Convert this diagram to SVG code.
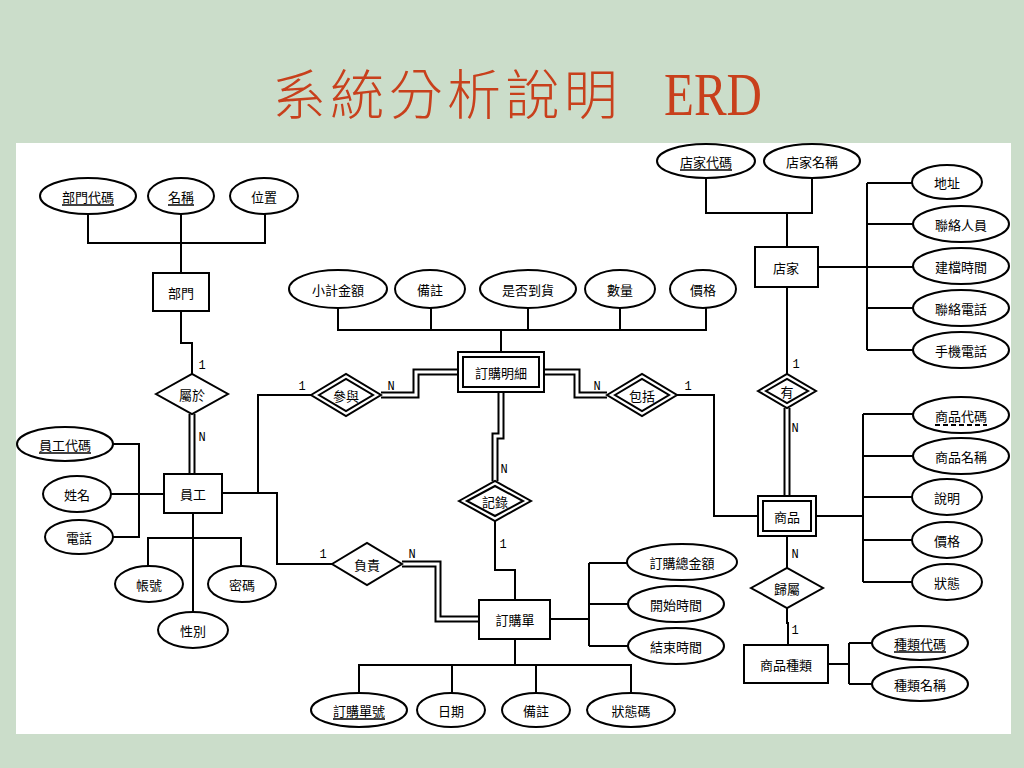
<svg xmlns="http://www.w3.org/2000/svg" width="1024" height="768" viewBox="0 0 1024 768">
<style>
.bg{fill:#cbddca}
.panel{fill:#fff}
.title{font-family:"Noto Sans CJK TC","Noto Sans CJK SC",sans-serif;font-size:54px;fill:#c8401c;font-weight:300}
.titlel{font-family:"Liberation Serif",serif;font-size:62px;fill:#c8401c}
.ln{stroke:#000;stroke-width:2;fill:none}
.dbl{stroke:#000;stroke-width:7;fill:none;stroke-linejoin:miter}
.dbli{stroke:#fff;stroke-width:3;fill:none;stroke-linejoin:miter}
.sh{stroke:#000;stroke-width:2;fill:#fff}
.t{font-family:"Noto Sans CJK TC","Noto Sans CJK SC",sans-serif;font-size:13px;fill:#000;text-anchor:middle;dominant-baseline:central}
.lb{font-family:"Liberation Mono",monospace;font-size:12px;fill:#000;text-anchor:middle}
.ul{stroke:#000;stroke-width:1.5}
.uld{stroke:#000;stroke-width:2;stroke-dasharray:5 3}
</style>
<rect class="bg" x="0" y="0" width="1024" height="768"/>
<rect class="panel" x="16" y="143" width="995" height="591"/>
<text x="272" y="115"><tspan class="title" textLength="362" lengthAdjust="spacing">系統分析說明 </tspan><tspan class="titlel" x="664" textLength="98" lengthAdjust="spacingAndGlyphs">ERD</tspan></text>

<g id="connectors">
<path class="ln" d="M88,214V243H265V214M181,214V273"/>
<path class="ln" d="M181,311V343H192V374"/>
<path class="dbl" d="M192,414V474"/><path class="dbli" d="M192,414V474"/>
<path class="ln" d="M113,444H139V537H113M111,494H164"/>
<path class="ln" d="M193,513V612M148,566V538H241V566"/>
<path class="ln" d="M222,493H277V564H332M258,493V395H312"/>
<path class="dbl" d="M381,395H416V372H458"/><path class="dbli" d="M381,395H416V372H458"/>
<path class="ln" d="M501,352V330M338,308V330H706V308M431,308V330M528,308V330M620,308V330"/>
<path class="dbl" d="M544,372H577V395H607"/><path class="dbli" d="M544,372H577V395H607"/>
<path class="ln" d="M677,395H714V516H758"/>
<path class="ln" d="M706,178V213H812V178M787,213V247"/>
<path class="ln" d="M787,287V374"/>
<path class="dbl" d="M787,408V496"/><path class="dbli" d="M787,408V496"/>
<path class="ln" d="M818,267H913M867,183V350M867,183H913M867,224H913M867,308H913M867,350H913"/>
<path class="ln" d="M816,516H863M863,414V582M863,414H913M863,456H913M863,497H913M863,540H913M863,582H913"/>
<path class="ln" d="M787,536V568M787,608V623H788V645"/>
<path class="ln" d="M828,664H849M849,643V684M849,643H872M849,684H872"/>
<path class="dbl" d="M501,392V436H495V481"/><path class="dbli" d="M501,392V436H495V481"/>
<path class="ln" d="M495,521V570H515V600"/>
<path class="dbl" d="M402,564H438V619H479"/><path class="dbli" d="M402,564H438V619H479"/>
<path class="ln" d="M550,619H589M589,563V646M589,563H628M589,604H628M589,646H628"/>
<path class="ln" d="M515,639V665M359,693V665H631V693M452,665V693M536,665V693"/>
<text class="lb" x="202" y="369">1</text>
<text class="lb" x="202" y="441">N</text>
<text class="lb" x="302" y="390">1</text>
<text class="lb" x="391" y="390">N</text>
<text class="lb" x="597" y="390">N</text>
<text class="lb" x="688" y="390">1</text>
<text class="lb" x="796" y="368">1</text>
<text class="lb" x="795" y="432">N</text>
<text class="lb" x="504" y="473">N</text>
<text class="lb" x="503" y="548">1</text>
<text class="lb" x="323" y="558">1</text>
<text class="lb" x="412" y="558">N</text>
<text class="lb" x="795" y="558">N</text>
<text class="lb" x="795" y="634">1</text>
</g>

<g id="dept-code"><ellipse class="sh" cx="88" cy="196" rx="48" ry="18"/><text class="t" x="88" y="196">部門代碼</text><line class="ul" x1="62" y1="205" x2="114" y2="205"/></g>
<g id="dept-name"><ellipse class="sh" cx="181" cy="196" rx="33" ry="18"/><text class="t" x="181" y="196">名稱</text><line class="ul" x1="168" y1="205" x2="194" y2="205"/></g>
<g id="dept-loc"><ellipse class="sh" cx="264" cy="196" rx="34" ry="18"/><text class="t" x="264" y="196">位置</text></g>
<g id="dept"><rect class="sh" x="153" y="273" width="56" height="38"/><text class="t" x="181" y="292">部門</text></g>
<g id="belong"><polygon class="sh" points="156,394 192,374 228,394 192,414"/><text class="t" x="192" y="394">屬於</text></g>
<g id="emp"><rect class="sh" x="164" y="474" width="58" height="39"/><text class="t" x="193" y="493">員工</text></g>
<g id="emp-code"><ellipse class="sh" cx="65" cy="444" rx="48" ry="17"/><text class="t" x="65" y="444">員工代碼</text><line class="ul" x1="39" y1="453" x2="91" y2="453"/></g>
<g id="emp-name"><ellipse class="sh" cx="77" cy="494" rx="34" ry="18"/><text class="t" x="77" y="494">姓名</text></g>
<g id="emp-tel"><ellipse class="sh" cx="79" cy="537" rx="34" ry="17"/><text class="t" x="79" y="537">電話</text></g>
<g id="emp-acct"><ellipse class="sh" cx="149" cy="584" rx="34" ry="18"/><text class="t" x="149" y="584">帳號</text></g>
<g id="emp-pwd"><ellipse class="sh" cx="242" cy="584" rx="34" ry="18"/><text class="t" x="242" y="584">密碼</text></g>
<g id="emp-sex"><ellipse class="sh" cx="193" cy="630" rx="35" ry="18"/><text class="t" x="193" y="630">性別</text></g>
<g id="join"><polygon class="sh" points="311,395 346,374 381,395 346,416"/><polygon class="sh" points="319,395 346,379 373,395 346,411"/><text class="t" x="346" y="395">參與</text></g>
<g id="detail"><rect class="sh" x="458" y="352" width="86" height="40"/><rect class="sh" x="463" y="357" width="76" height="30"/><text class="t" x="501" y="372">訂購明細</text></g>
<g id="d-sub"><ellipse class="sh" cx="338" cy="289" rx="49" ry="19"/><text class="t" x="338" y="289">小計金額</text></g>
<g id="d-note"><ellipse class="sh" cx="430" cy="289" rx="35" ry="19"/><text class="t" x="430" y="289">備註</text></g>
<g id="d-arrive"><ellipse class="sh" cx="528" cy="289" rx="48" ry="19"/><text class="t" x="528" y="289">是否到貨</text></g>
<g id="d-qty"><ellipse class="sh" cx="620" cy="289" rx="35" ry="19"/><text class="t" x="620" y="289">數量</text></g>
<g id="d-price"><ellipse class="sh" cx="703" cy="289" rx="33" ry="19"/><text class="t" x="703" y="289">價格</text></g>
<g id="include"><polygon class="sh" points="607,395 642,374 677,395 642,416"/><polygon class="sh" points="615,395 642,379 669,395 642,411"/><text class="t" x="642" y="395">包括</text></g>
<g id="record"><polygon class="sh" points="459,501 495,481 531,501 495,521"/><polygon class="sh" points="467,501 495,486 523,501 495,516"/><text class="t" x="495" y="501">記錄</text></g>
<g id="resp"><polygon class="sh" points="332,564 367,543 402,564 367,585"/><text class="t" x="367" y="564">負責</text></g>
<g id="order"><rect class="sh" x="479" y="600" width="71" height="39"/><text class="t" x="515" y="619">訂購單</text></g>
<g id="o-total"><ellipse class="sh" cx="682" cy="562" rx="55" ry="18"/><text class="t" x="682" y="562">訂購總金額</text></g>
<g id="o-start"><ellipse class="sh" cx="676" cy="604" rx="48" ry="18"/><text class="t" x="676" y="604">開始時間</text></g>
<g id="o-end"><ellipse class="sh" cx="676" cy="646" rx="48" ry="18"/><text class="t" x="676" y="646">結束時間</text></g>
<g id="o-no"><ellipse class="sh" cx="359" cy="710" rx="48" ry="17"/><text class="t" x="359" y="710">訂購單號</text><line class="ul" x1="333" y1="719" x2="385" y2="719"/></g>
<g id="o-date"><ellipse class="sh" cx="451" cy="710" rx="34" ry="17"/><text class="t" x="451" y="710">日期</text></g>
<g id="o-note"><ellipse class="sh" cx="536" cy="710" rx="34" ry="17"/><text class="t" x="536" y="710">備註</text></g>
<g id="o-status"><ellipse class="sh" cx="631" cy="710" rx="44" ry="17"/><text class="t" x="631" y="710">狀態碼</text></g>
<g id="store"><rect class="sh" x="755" y="247" width="63" height="40"/><text class="t" x="786" y="267">店家</text></g>
<g id="s-code"><ellipse class="sh" cx="706" cy="161" rx="49" ry="17"/><text class="t" x="706" y="161">店家代碼</text><line class="ul" x1="680" y1="170" x2="732" y2="170"/></g>
<g id="s-name"><ellipse class="sh" cx="812" cy="161" rx="48" ry="17"/><text class="t" x="812" y="161">店家名稱</text></g>
<g id="s-addr"><ellipse class="sh" cx="947" cy="182" rx="35" ry="17"/><text class="t" x="947" y="182">地址</text></g>
<g id="s-contact"><ellipse class="sh" cx="961" cy="224" rx="48" ry="18"/><text class="t" x="961" y="224">聯絡人員</text></g>
<g id="s-created"><ellipse class="sh" cx="961" cy="266" rx="48" ry="18"/><text class="t" x="961" y="266">建檔時間</text></g>
<g id="s-tel"><ellipse class="sh" cx="961" cy="308" rx="48" ry="18"/><text class="t" x="961" y="308">聯絡電話</text></g>
<g id="s-mobile"><ellipse class="sh" cx="961" cy="350" rx="48" ry="18"/><text class="t" x="961" y="350">手機電話</text></g>
<g id="has"><polygon class="sh" points="758,391 787,374 816,391 787,408"/><polygon class="sh" points="766,391 787,379 808,391 787,403"/><text class="t" x="787" y="391">有</text></g>
<g id="product"><rect class="sh" x="758" y="496" width="58" height="40"/><rect class="sh" x="763" y="501" width="48" height="30"/><text class="t" x="787" y="516">商品</text></g>
<g id="p-code"><ellipse class="sh" cx="961" cy="415" rx="48" ry="18"/><text class="t" x="961" y="415">商品代碼</text><line class="uld" x1="935" y1="425" x2="987" y2="425"/></g>
<g id="p-name"><ellipse class="sh" cx="961" cy="456" rx="48" ry="18"/><text class="t" x="961" y="456">商品名稱</text></g>
<g id="p-desc"><ellipse class="sh" cx="947" cy="497" rx="35" ry="18"/><text class="t" x="947" y="497">說明</text></g>
<g id="p-price"><ellipse class="sh" cx="947" cy="540" rx="35" ry="18"/><text class="t" x="947" y="540">價格</text></g>
<g id="p-status"><ellipse class="sh" cx="947" cy="582" rx="35" ry="18"/><text class="t" x="947" y="582">狀態</text></g>
<g id="belongs"><polygon class="sh" points="751,588 787,568 823,588 787,608"/><text class="t" x="787" y="588">歸屬</text></g>
<g id="category"><rect class="sh" x="744" y="645" width="84" height="38"/><text class="t" x="786" y="664">商品種類</text></g>
<g id="c-code"><ellipse class="sh" cx="920" cy="643" rx="48" ry="17"/><text class="t" x="920" y="643">種類代碼</text><line class="ul" x1="894" y1="652" x2="946" y2="652"/></g>
<g id="c-name"><ellipse class="sh" cx="920" cy="684" rx="48" ry="17"/><text class="t" x="920" y="684">種類名稱</text></g>
</svg>
